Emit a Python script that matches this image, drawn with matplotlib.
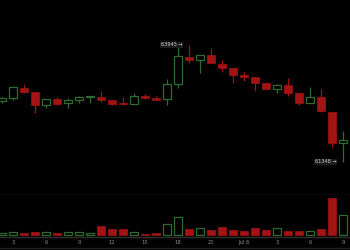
import matplotlib
matplotlib.use("Agg")
import matplotlib.pyplot as plt

# hourly candles, hour index (24 = Jul 6 00:00)
hours = list(range(2, 34))
opens = [62702, 62768, 62990, 62902, 62613, 62746, 62657, 62724, 62791, 62791,
         62724, 62640, 62635, 62813, 62768, 62746, 63079, 63679, 63612, 63723,
         63523, 63434, 63279, 63235, 63101, 62968, 63057, 62879, 62657, 62791,
         62458, 61769]
highs = [62791, 63035, 63079, 62910, 62752, 62791, 62768, 62813, 62820, 62924,
         62730, 62791, 62879, 62857, 62813, 63190, 63901, 63945, 63730, 63878,
         63612, 63440, 63346, 63240, 63110, 63079, 63212, 62900, 63013, 62968,
         62465, 62036]
lows = [62657, 62724, 62890, 62435, 62546, 62613, 62546, 62657, 62657, 62680,
        62613, 62613, 62630, 62746, 62720, 62613, 62990, 63545, 63323, 63540,
        63346, 63101, 63146, 62924, 62960, 62879, 62813, 62613, 62650, 62458,
        61681, 61348]
closes = [62768, 63013, 62902, 62613, 62746, 62635, 62724, 62791, 62813, 62724,
          62635, 62628, 62813, 62768, 62724, 63079, 63701, 63612, 63723, 63545,
          63434, 63279, 63235, 63101, 62968, 63057, 62879, 62657, 62791, 62480,
          61769, 61836]
volumes = [24, 36, 24, 42, 36, 24, 36, 36, 30, 114,
           72, 72, 36, 18, 24, 132, 222, 78, 90, 60,
           96, 60, 48, 90, 60, 84, 48, 48, 54, 72,
           444, 246]

tick_hours = [3, 6, 9, 12, 15, 18, 21, 24, 27, 30, 33]
tick_labels = ["3", "6", "9", "12", "15", "18", "21", "Jul 6", "3", "6", "9"]

BG = "#000000"
RED = "#a31313"
GREEN = "#2f6b2f"
GRID = "#2e2e2e"

fig = plt.figure(figsize=(3.5, 2.5), dpi=100, facecolor=BG)
ax = fig.add_axes([0, 0.22, 1, 0.78], facecolor=BG)
axv = fig.add_axes([0, 0.052, 1, 0.168], facecolor=BG)

xlim = (1.82, 33.64)
w = 0.8

for h, o, hi, lo, c, v in zip(hours, opens, highs, lows, closes, volumes):
    up = c >= o
    col = GREEN if up else RED
    ax.vlines(h, lo, hi, color=col, lw=0.9, zorder=1)
    bottom = min(o, c)
    height = max(abs(c - o), 20)
    if up:
        ax.bar(h, height, bottom=bottom, width=w, facecolor=BG,
               edgecolor=col, lw=0.9, zorder=2)
        axv.bar(h, v, width=w, facecolor=BG, edgecolor=col, lw=0.9)
    else:
        ax.bar(h, height, bottom=bottom, width=w, facecolor=col,
               edgecolor=col, lw=0.5, zorder=2)
        axv.bar(h, v, width=w, facecolor=col, edgecolor=col, lw=0.5)

# max / min labels
imax = highs.index(max(highs))
imin = lows.index(min(lows))
ax.text(hours[imax] - 0.6, highs[imax], f"{max(highs)} \u2192", color="#cccccc",
        fontsize=3.6, ha="right", va="center",
        bbox=dict(facecolor="#1c1c1c", edgecolor="none", pad=0.4))
ax.text(hours[imin] - 0.6, lows[imin], f"{min(lows)} \u2192", color="#cccccc",
        fontsize=3.6, ha="right", va="center",
        bbox=dict(facecolor="#1c1c1c", edgecolor="none", pad=0.4))

ax.set_xlim(*xlim)
ax.set_ylim(60615, 64944)
ax.set_xticks([])
ax.set_yticks([])
for s in ax.spines.values():
    s.set_visible(False)
ax.spines["bottom"].set_visible(True)
ax.spines["bottom"].set_color(GRID)
ax.spines["bottom"].set_linewidth(1)

axv.set_xlim(*xlim)
axv.set_ylim(-24, 480)
axv.set_yticks([])
axv.set_xticks(tick_hours)
axv.set_xticklabels(tick_labels, color="#8a8a8a", fontsize=3.8)
axv.tick_params(axis="x", length=0, pad=2.5)
for s in axv.spines.values():
    s.set_visible(False)
axv.spines["bottom"].set_visible(True)
axv.spines["bottom"].set_color(GRID)
axv.spines["bottom"].set_linewidth(1)

# line under the time labels
fig.add_artist(plt.Line2D([0, 1], [0.008, 0.008], color="#1e1e1e", lw=1))

fig.savefig("out.png", dpi=100, facecolor=BG)
